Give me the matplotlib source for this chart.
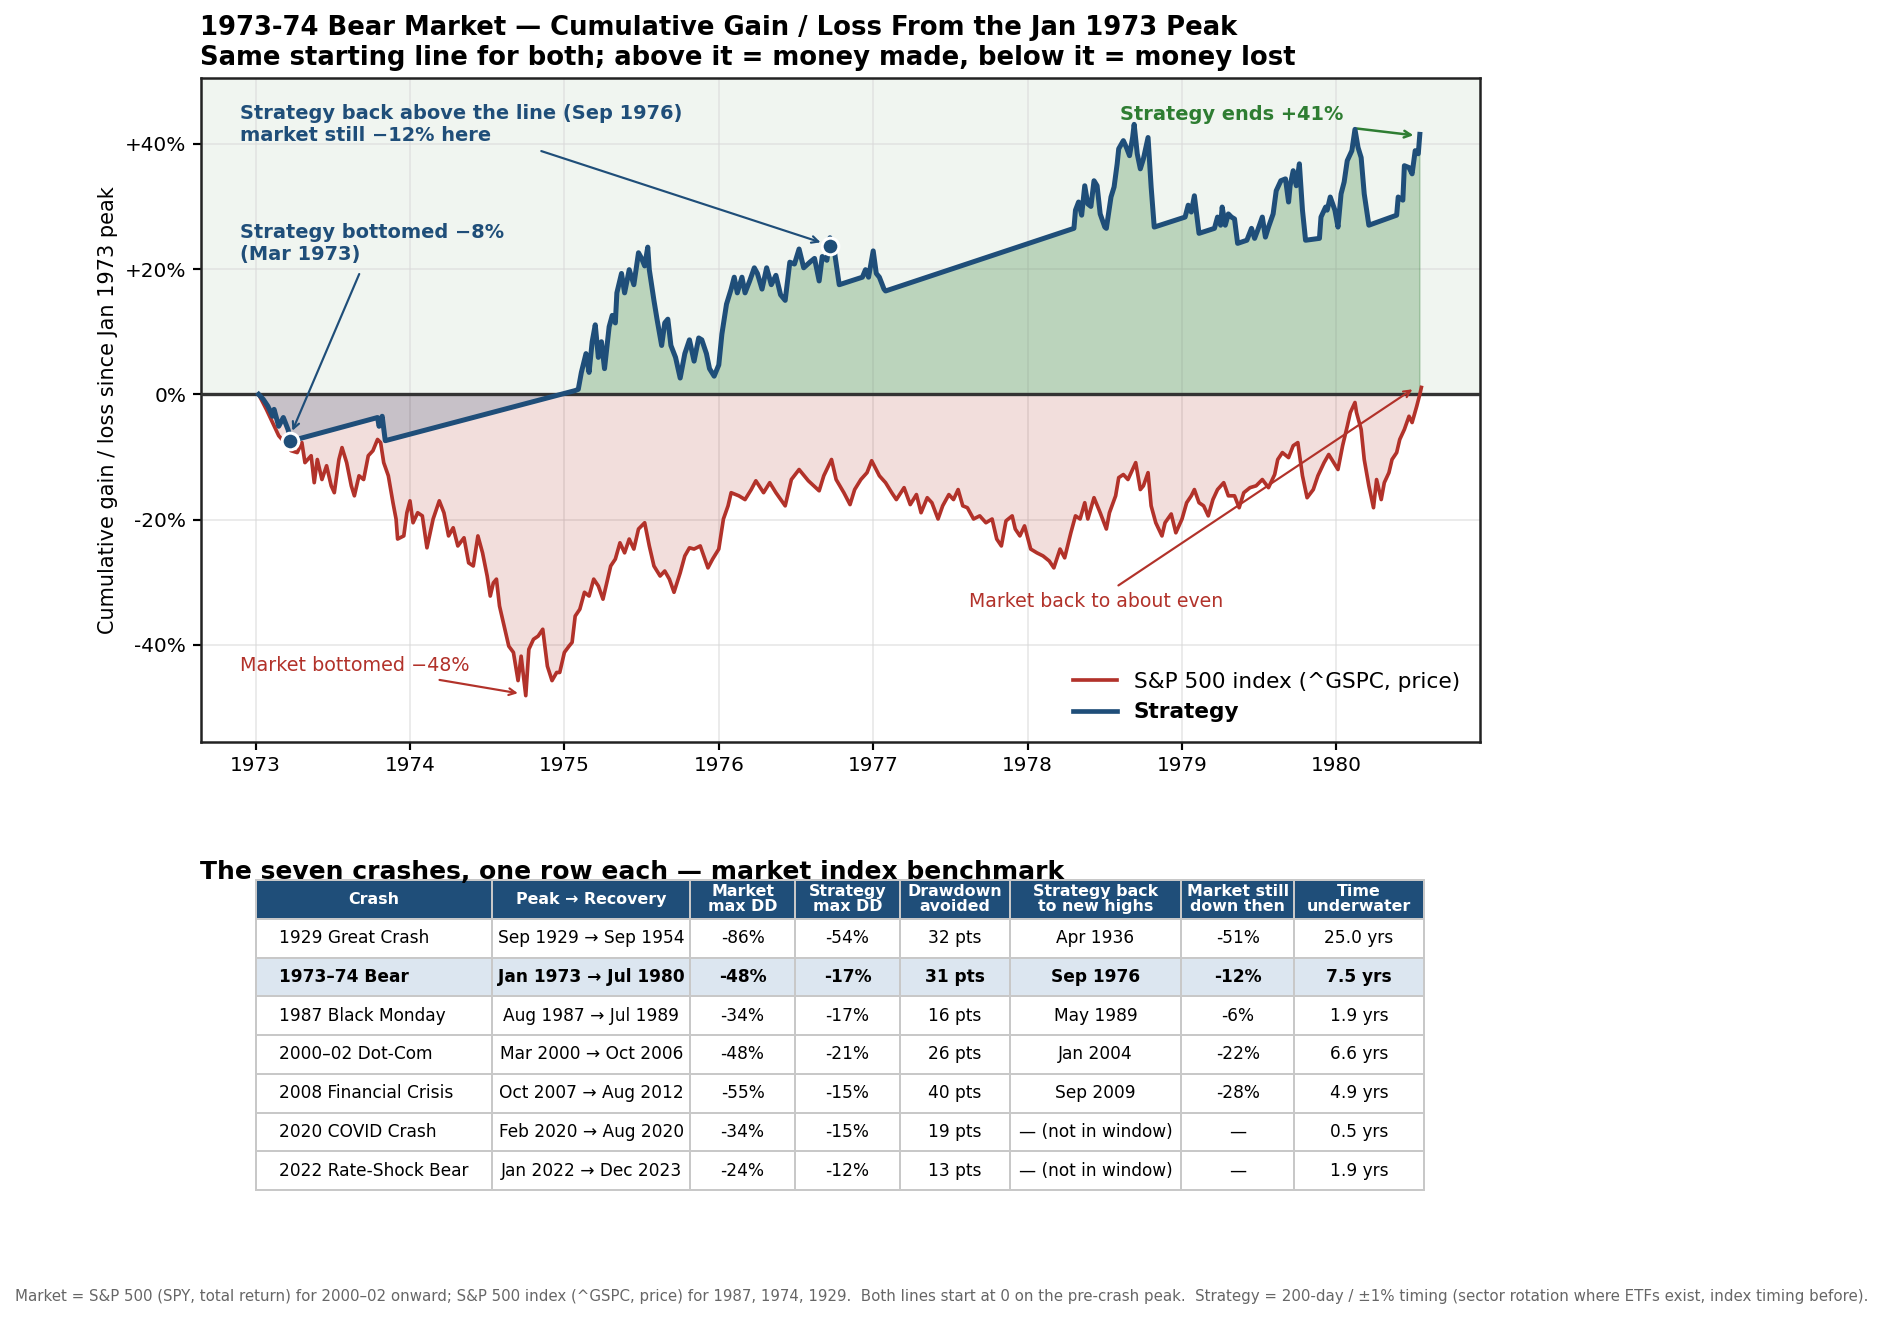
import matplotlib
matplotlib.use("Agg")
import matplotlib.pyplot as plt
from matplotlib.lines import Line2D
import numpy as np

NAVY = "#1f4e79"
RED = "#b2322a"
GREEN = "#2e7d32"

# market (S&P 500 price), cumulative % from the Jan 1973 peak
mkt_t = [1973.02, 1973.07, 1973.11, 1973.15, 1973.20, 1973.23, 1973.27, 1973.30, 1973.32, 1973.36,
         1973.38, 1973.40, 1973.43, 1973.46, 1973.49, 1973.51, 1973.54, 1973.56, 1973.59, 1973.62,
         1973.64, 1973.67, 1973.70, 1973.73, 1973.76, 1973.79, 1973.81, 1973.83, 1973.86, 1973.89,
         1973.91, 1973.92, 1973.96, 1973.98, 1974.00, 1974.02, 1974.05, 1974.08, 1974.11, 1974.15,
         1974.19, 1974.22, 1974.25, 1974.28, 1974.31, 1974.35, 1974.38, 1974.41, 1974.44, 1974.47,
         1974.50, 1974.52, 1974.54, 1974.56, 1974.58, 1974.61, 1974.64, 1974.67, 1974.70, 1974.72,
         1974.75, 1974.77, 1974.80, 1974.83, 1974.86, 1974.89, 1974.92, 1974.95, 1974.97, 1975.00,
         1975.03, 1975.05, 1975.07, 1975.10, 1975.13, 1975.16, 1975.19, 1975.22, 1975.25, 1975.28,
         1975.30, 1975.33, 1975.36, 1975.39, 1975.42, 1975.45, 1975.48, 1975.52, 1975.55, 1975.58,
         1975.62, 1975.65, 1975.68, 1975.71, 1975.75, 1975.78, 1975.81, 1975.84, 1975.88, 1975.93,
         1975.96, 1976.00, 1976.03, 1976.06, 1976.08, 1976.13, 1976.17, 1976.21, 1976.24, 1976.29,
         1976.33, 1976.37, 1976.43, 1976.47, 1976.52, 1976.58, 1976.65, 1976.68, 1976.73, 1976.76,
         1976.81, 1976.85, 1976.88, 1976.92, 1976.96, 1976.99, 1977.04, 1977.08, 1977.12, 1977.15,
         1977.20, 1977.24, 1977.28, 1977.31, 1977.35, 1977.38, 1977.42, 1977.45, 1977.49, 1977.52,
         1977.55, 1977.58, 1977.61, 1977.65, 1977.69, 1977.73, 1977.77, 1977.80, 1977.83, 1977.86,
         1977.90, 1977.92, 1977.95, 1977.98, 1978.02, 1978.06, 1978.10, 1978.14, 1978.17, 1978.21,
         1978.24, 1978.28, 1978.31, 1978.34, 1978.37, 1978.39, 1978.43, 1978.47, 1978.51, 1978.53,
         1978.57, 1978.59, 1978.62, 1978.65, 1978.70, 1978.73, 1978.75, 1978.78, 1978.80, 1978.83,
         1978.87, 1978.89, 1978.93, 1978.96, 1979.00, 1979.03, 1979.06, 1979.08, 1979.11, 1979.14,
         1979.17, 1979.20, 1979.23, 1979.27, 1979.30, 1979.34, 1979.37, 1979.40, 1979.44, 1979.48,
         1979.52, 1979.56, 1979.60, 1979.62, 1979.65, 1979.69, 1979.72, 1979.75, 1979.78, 1979.81,
         1979.85, 1979.88, 1979.92, 1979.95, 1980.01, 1980.04, 1980.07, 1980.09, 1980.12, 1980.13,
         1980.16, 1980.18, 1980.21, 1980.24, 1980.26, 1980.29, 1980.31, 1980.34, 1980.36, 1980.39,
         1980.41, 1980.44, 1980.47, 1980.49, 1980.52, 1980.54, 1980.55]
mkt_v = [0.0, -2.4, -4.5, -6.6, -8.0, -9.0, -9.3, -7.7, -10.9, -9.8,
         -14.1, -10.4, -13.6, -11.4, -14.6, -15.7, -10.4, -8.5, -10.9, -14.6,
         -16.2, -13.0, -13.6, -9.8, -9.0, -7.2, -7.7, -10.9, -13.0, -17.3,
         -19.9, -23.1, -22.6, -18.9, -17.0, -20.5, -18.9, -19.4, -24.5, -19.9,
         -17.0, -18.9, -22.6, -21.3, -24.2, -22.9, -26.9, -27.4, -22.6, -25.3,
         -29.0, -32.2, -30.1, -29.5, -33.8, -37.0, -40.2, -41.2, -45.7, -41.8,
         -48.1, -40.7, -39.1, -38.6, -37.5, -43.4, -45.7, -44.4, -44.4, -41.2,
         -40.2, -39.6, -35.4, -34.3, -31.6, -32.2, -29.5, -30.6, -32.7, -29.5,
         -27.4, -26.3, -23.7, -25.3, -23.1, -24.7, -21.5, -20.5, -24.2, -27.4,
         -29.0, -28.2, -29.5, -31.6, -28.5, -25.8, -24.5, -24.7, -24.2, -27.7,
         -26.3, -24.7, -19.9, -17.8, -15.7, -16.2, -16.8, -15.2, -13.8, -15.7,
         -14.1, -15.7, -17.8, -13.6, -12.0, -13.8, -15.4, -13.0, -10.4, -13.6,
         -15.7, -17.6, -15.2, -13.6, -12.5, -10.6, -13.0, -14.1, -15.7, -16.8,
         -14.9, -17.6, -16.0, -18.9, -16.5, -17.3, -19.9, -17.8, -16.0, -16.8,
         -15.2, -17.8, -18.1, -19.9, -19.4, -20.5, -19.9, -23.1, -24.2, -20.2,
         -19.4, -21.5, -22.6, -21.0, -24.7, -25.3, -25.8, -26.6, -27.7, -24.7,
         -26.1, -22.1, -19.4, -19.9, -17.3, -19.9, -16.5, -18.9, -21.5, -18.9,
         -16.2, -13.3, -12.8, -13.6, -10.9, -15.2, -14.6, -12.5, -17.8, -20.5,
         -22.6, -20.5, -19.1, -22.1, -19.9, -17.3, -16.2, -15.2, -17.3, -17.8,
         -19.4, -16.8, -15.2, -14.1, -16.2, -16.2, -18.1, -15.7, -14.9, -14.6,
         -13.6, -14.9, -12.8, -10.4, -9.3, -10.1, -8.2, -7.7, -13.0, -16.5,
         -15.2, -13.0, -10.9, -9.6, -12.0, -8.2, -5.1, -2.9, -1.3, -2.9,
         -5.6, -10.4, -14.6, -18.1, -13.6, -16.8, -14.1, -12.5, -10.4, -9.3,
         -7.2, -5.6, -3.5, -4.5, -1.9, 0.0, 1.1]

# strategy, cumulative % from the same peak (straight stretches = out of the market)
strat_t = [1973.02, 1973.05, 1973.08, 1973.11, 1973.12, 1973.15, 1973.18, 1973.21, 1973.23, 1973.28,
           1973.79, 1973.80, 1973.82, 1973.84, 1975.07, 1975.09, 1975.11, 1975.14, 1975.16, 1975.18,
           1975.20, 1975.22, 1975.24, 1975.26, 1975.29, 1975.31, 1975.33, 1975.34, 1975.37, 1975.39,
           1975.42, 1975.45, 1975.48, 1975.50, 1975.52, 1975.54, 1975.55, 1975.58, 1975.60, 1975.63,
           1975.65, 1975.67, 1975.69, 1975.72, 1975.75, 1975.78, 1975.81, 1975.84, 1975.87, 1975.89,
           1975.92, 1975.94, 1975.97, 1976.00, 1976.02, 1976.05, 1976.08, 1976.10, 1976.12, 1976.15,
           1976.17, 1976.20, 1976.23, 1976.25, 1976.28, 1976.31, 1976.34, 1976.37, 1976.40, 1976.43,
           1976.46, 1976.49, 1976.52, 1976.55, 1976.59, 1976.62, 1976.65, 1976.67, 1976.70, 1976.72,
           1976.75, 1976.78, 1976.93, 1976.95, 1976.97, 1977.00, 1977.02, 1977.04, 1977.07, 1977.08,
           1978.30, 1978.31, 1978.33, 1978.35, 1978.37, 1978.39, 1978.41, 1978.43, 1978.45, 1978.47,
           1978.50, 1978.51, 1978.54, 1978.56, 1978.58, 1978.59, 1978.62, 1978.64, 1978.66, 1978.68,
           1978.69, 1978.71, 1978.73, 1978.75, 1978.78, 1978.80, 1978.82, 1979.02, 1979.04, 1979.06,
           1979.08, 1979.11, 1979.21, 1979.23, 1979.25, 1979.26, 1979.28, 1979.30, 1979.32, 1979.34,
           1979.36, 1979.42, 1979.45, 1979.47, 1979.49, 1979.52, 1979.54, 1979.56, 1979.59, 1979.61,
           1979.64, 1979.67, 1979.69, 1979.70, 1979.72, 1979.74, 1979.76, 1979.78, 1979.80, 1979.89,
           1979.90, 1979.93, 1979.94, 1979.96, 1979.99, 1980.01, 1980.03, 1980.05, 1980.07, 1980.10,
           1980.12, 1980.14, 1980.16, 1980.18, 1980.21, 1980.39, 1980.40, 1980.43, 1980.44, 1980.47,
           1980.49, 1980.51, 1980.53, 1980.54]
strat_v = [0.0, -0.8, -1.9, -3.5, -2.4, -5.1, -3.7, -5.6, -7.4, -7.1,
           -3.7, -5.1, -3.5, -7.4, 0.6, 0.8, 3.5, 6.5, 3.5, 8.4,
           11.1, 5.9, 8.4, 4.1, 10.8, 12.6, 11.4, 16.2, 19.3, 16.2,
           19.9, 17.5, 22.6, 21.7, 20.5, 23.5, 19.9, 15.0, 12.0, 7.8,
           11.4, 12.0, 7.8, 5.9, 2.6, 6.5, 8.7, 5.3, 9.0, 8.7,
           6.5, 4.1, 2.9, 4.7, 9.6, 14.4, 16.8, 18.7, 16.2, 18.7,
           16.2, 18.1, 20.2, 19.3, 16.8, 20.2, 17.5, 19.0, 15.9, 15.0,
           21.1, 20.8, 23.2, 20.2, 21.1, 21.7, 18.1, 22.0, 21.4, 25.0,
           22.6, 17.5, 18.7, 19.9, 18.7, 22.9, 19.3, 18.7, 16.8, 16.5,
           26.5, 29.4, 30.7, 28.6, 33.3, 30.4, 30.0, 34.1, 33.3, 28.8,
           26.7, 26.5, 31.5, 33.1, 36.8, 39.2, 40.5, 39.4, 38.1, 41.0,
           43.1, 38.4, 36.0, 37.6, 41.0, 33.1, 26.7, 28.3, 30.2, 29.1,
           31.7, 25.7, 26.5, 28.3, 27.0, 29.9, 27.0, 28.8, 28.3, 28.0,
           24.1, 24.6, 26.5, 24.9, 26.2, 28.3, 25.1, 26.7, 28.8, 32.5,
           34.1, 34.4, 30.7, 33.3, 35.7, 33.3, 36.8, 29.4, 24.6, 24.9,
           28.3, 29.9, 29.4, 31.5, 29.4, 26.7, 32.0, 33.9, 37.3, 38.9,
           42.3, 39.4, 37.8, 32.0, 27.0, 28.6, 31.5, 31.0, 36.5, 36.2,
           35.2, 38.9, 38.4, 41.5]

x_ticks = [1973, 1974, 1975, 1976, 1977, 1978, 1979, 1980]
y_ticks = [-40, -20, 0, 20, 40]

# table
headers = ["Crash", "Peak \u2192 Recovery", "Market\nmax DD", "Strategy\nmax DD", "Drawdown\navoided",
           "Strategy back\nto new highs", "Market still\ndown then", "Time\nunderwater"]
crash = ["1929 Great Crash", "1973\u201374 Bear", "1987 Black Monday", "2000\u201302 Dot-Com",
         "2008 Financial Crisis", "2020 COVID Crash", "2022 Rate-Shock Bear"]
peak_rec = ["Sep 1929 \u2192 Sep 1954", "Jan 1973 \u2192 Jul 1980", "Aug 1987 \u2192 Jul 1989",
            "Mar 2000 \u2192 Oct 2006", "Oct 2007 \u2192 Aug 2012", "Feb 2020 \u2192 Aug 2020",
            "Jan 2022 \u2192 Dec 2023"]
mkt_dd = ["-86%", "-48%", "-34%", "-48%", "-55%", "-34%", "-24%"]
strat_dd = ["-54%", "-17%", "-17%", "-21%", "-15%", "-15%", "-12%"]
avoided = ["32 pts", "31 pts", "16 pts", "26 pts", "40 pts", "19 pts", "13 pts"]
back_high = ["Apr 1936", "Sep 1976", "May 1989", "Jan 2004", "Sep 2009",
             "\u2014 (not in window)", "\u2014 (not in window)"]
still_down = ["-51%", "-12%", "-6%", "-22%", "-28%", "\u2014", "\u2014"]
underwater = ["25.0 yrs", "7.5 yrs", "1.9 yrs", "6.6 yrs", "4.9 yrs", "0.5 yrs", "1.9 yrs"]
highlight_row = 1

W, H = 1883, 1319
fig = plt.figure(figsize=(W / 120, H / 120), dpi=120)
ax = fig.add_axes([200.5 / W, 1 - 742 / H, 1279 / W, 664 / H])

mt = np.array(mkt_t)
mv = np.array(mkt_v)
st = np.array(strat_t)
sv = np.array(strat_v)

ax.axhspan(0, 60, color=GREEN, alpha=0.07, lw=0, zorder=0)
ax.fill_between(mt, 0, mv, color=RED, alpha=0.16, lw=0, zorder=1)
ax.fill_between(st, 0, sv, where=sv >= 0, interpolate=True, color=GREEN, alpha=0.27, zorder=1.5)
ax.fill_between(st, 0, sv, where=sv <= 0, interpolate=True, color=NAVY, alpha=0.2, lw=0, zorder=1.5)
ax.axhline(0, color="#333333", lw=2, zorder=3)
ax.plot(mt, mv, color=RED, lw=2.2, zorder=4)
ax.plot(st, sv, color=NAVY, lw=3.0, zorder=5)

# markers
ax.plot([1973.22, 1976.72], [-7.5, 23.7], "o", ms=10, color=NAVY, mec="white", mew=1.8, zorder=6)

ax.set_ylim(-55.5, 50.5)
ax.set_xticks(x_ticks)
ax.set_xticklabels([str(y) for y in x_ticks], fontsize=12)
ax.set_yticks(y_ticks)
ax.set_yticklabels([f"{v:+d}%" if v != 0 else "0%" for v in y_ticks], fontsize=12)
ax.grid(True, color="#d9d9d9", alpha=0.6, lw=1)
ax.set_axisbelow(True)
for s in ax.spines.values():
    s.set_linewidth(1.5)
    s.set_color("#222222")
ax.tick_params(width=1.3, length=5)
ax.set_ylabel("Cumulative gain / loss since Jan 1973 peak", fontsize=12.5)
ax.set_title("1973-74 Bear Market \u2014 Cumulative Gain / Loss From the Jan 1973 Peak\n"
             "Same starting line for both; above it = money made, below it = money lost",
             loc="left", fontweight="bold", fontsize=15.5, pad=8)

# annotations
ax.text(1972.90, 46.3, "Strategy back above the line (Sep 1976)\nmarket still \u221212% here",
        color=NAVY, fontweight="bold", fontsize=11.6, ha="left", va="top")
ax.annotate("", xy=(1976.68, 24.1), xytext=(1974.83, 39.0),
            arrowprops=dict(arrowstyle="->", color=NAVY, lw=1.3))
ax.text(1972.90, 27.4, "Strategy bottomed \u22128%\n(Mar 1973)",
        color=NAVY, fontweight="bold", fontsize=11.6, ha="left", va="top")
ax.annotate("", xy=(1973.23, -6.3), xytext=(1973.68, 19.7),
            arrowprops=dict(arrowstyle="->", color=NAVY, lw=1.3))
ax.text(1978.60, 44.6, "Strategy ends +41%", color=GREEN, fontweight="bold",
        fontsize=11.6, ha="left", va="center")
ax.annotate("", xy=(1980.52, 41.3), xytext=(1980.11, 42.5),
            arrowprops=dict(arrowstyle="->", color=GREEN, lw=1.5))
ax.text(1972.90, -43.3, "Market bottomed \u221248%", color=RED, fontsize=11.5,
        ha="left", va="center")
ax.annotate("", xy=(1974.72, -47.8), xytext=(1974.17, -45.5),
            arrowprops=dict(arrowstyle="->", color=RED, lw=1.3))
ax.text(1977.62, -33.1, "Market back to about even", color=RED, fontsize=11.3,
        ha="left", va="center")
ax.annotate("", xy=(1980.51, 1.1), xytext=(1978.57, -30.8),
            arrowprops=dict(arrowstyle="->", color=RED, lw=1.3))

handles = [Line2D([], [], color=RED, lw=2.2), Line2D([], [], color=NAVY, lw=2.8)]
leg = ax.legend(handles, ["S&P 500 index (^GSPC, price)", "Strategy"], loc="lower right",
                frameon=False, fontsize=13)
leg.get_texts()[1].set_fontweight("bold")

# table
fig.text(200.5 / W, 1 - 872 / H, "The seven crashes, one row each \u2014 market index benchmark",
         fontweight="bold", fontsize=15, ha="left", va="center")
tax = fig.add_axes([255.8 / W, 1 - 1190 / H, 1168 / W, 310 / H])
tax.axis("off")
rows = [list(r) for r in zip(crash, peak_rec, mkt_dd, strat_dd, avoided, back_high, still_down, underwater)]
col_px = [197, 165, 87, 88, 91, 143, 94, 108]
col_w = [c / sum(col_px) for c in col_px]
tbl = tax.table(cellText=rows, colLabels=headers, colWidths=col_w, cellLoc="center",
                bbox=[0, 0, 1, 1])
tbl.auto_set_font_size(False)
tbl.set_fontsize(10.2)
for (r, c), cell in tbl.get_celld().items():
    cell.set_edgecolor("#c8c8c8")
    cell.set_linewidth(1.2)
    if r == 0:
        cell.set_facecolor(NAVY)
        cell.get_text().set_color("white")
        cell.get_text().set_fontweight("bold")
        cell.get_text().set_fontsize(9.5)
        cell.get_text().set_linespacing(1.0)
    else:
        if c == 0:
            cell._loc = "left"
            cell.get_text().set_horizontalalignment("left")
        if r - 1 == highlight_row:
            cell.set_facecolor("#dce6f0")
            cell.get_text().set_fontweight("bold")

fig.text(0.5, 0.017,
         "Market = S&P 500 (SPY, total return) for 2000\u201302 onward; S&P 500 index (^GSPC, price) for 1987, 1974, 1929.  "
         "Both lines start at 0 on the pre-crash peak.  Strategy = 200-day / \u00b11% timing "
         "(sector rotation where ETFs exist, index timing before).",
         ha="center", va="center", fontsize=9, color="#666666")

fig.savefig("out.png", dpi=120)
